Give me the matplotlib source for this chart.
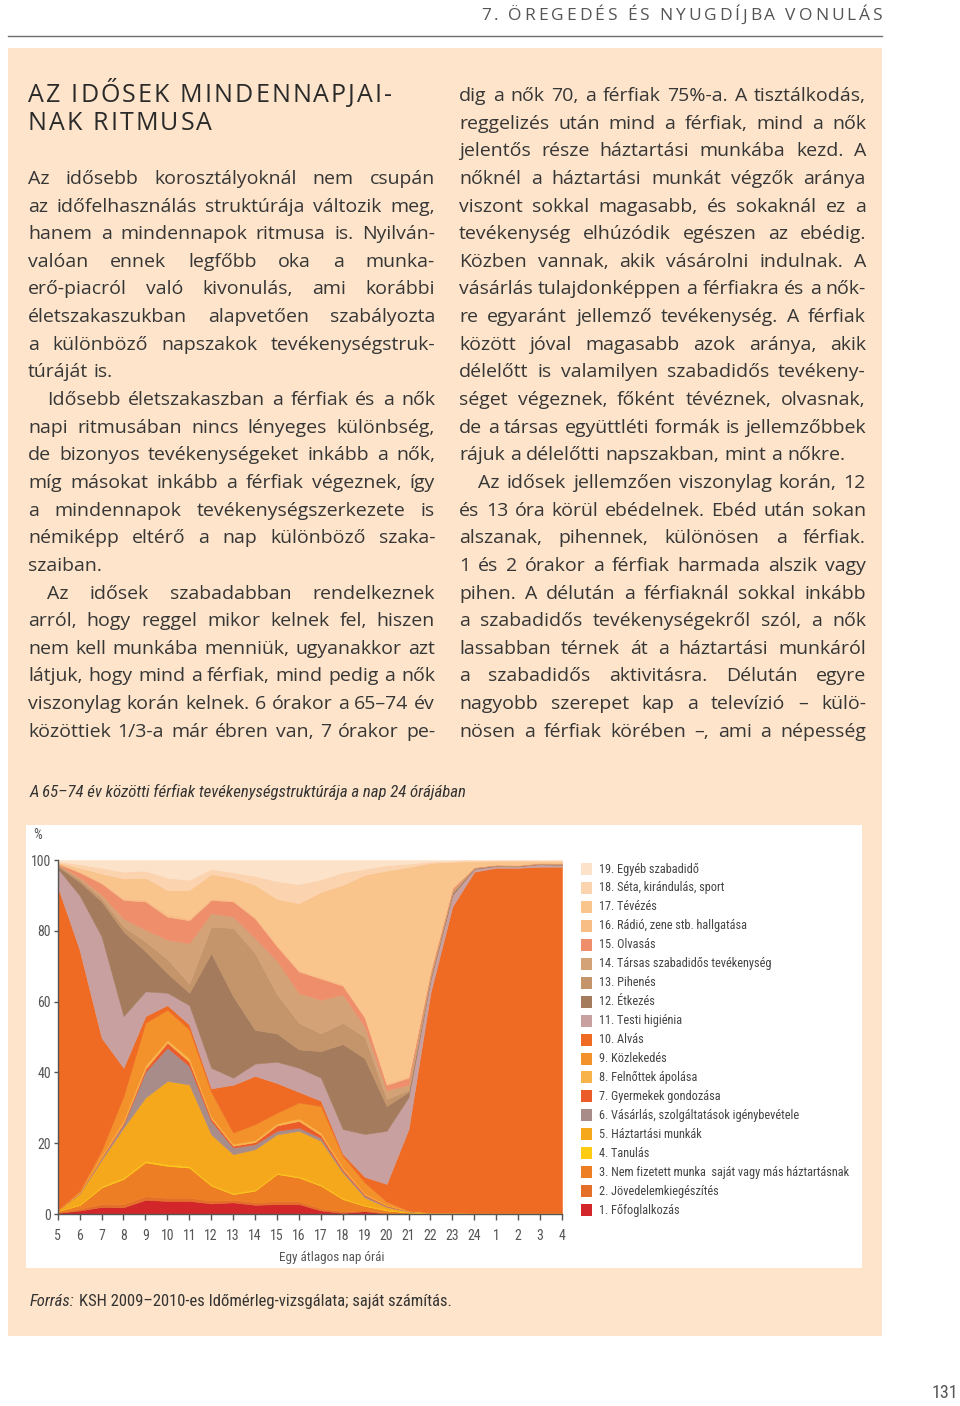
import numpy as np
import matplotlib
matplotlib.use('Agg')
import matplotlib.pyplot as plt
from matplotlib import font_manager as fm
from matplotlib.font_manager import FontProperties
from matplotlib.patches import Rectangle
from matplotlib.lines import Line2D

# ---- data: share (%) of men aged 65-74 by activity, hour of the day ----
hours = ['5', '6', '7', '8', '9', '10', '11', '12', '13', '14', '15', '16',
         '17', '18', '19', '20', '21', '22', '23', '24', '1', '2', '3', '4']

fofoglalkozas = [0.3, 1.0, 2.0, 1.9, 4.0, 3.7, 3.7, 3.0, 3.3, 2.6, 2.8, 2.8, 1.0, 0.3, 0.8, 0.1, 0.1, 0.1, 0.1, 0.1, 0.1, 0.1, 0.1, 0.1]
jovedelem = [0.2, 0.5, 0.8, 0.9, 1.0, 0.9, 0.9, 0.8, 0.7, 0.8, 0.8, 0.8, 0.6, 0.5, 0.2, 0.3, 0.1, 0, 0, 0, 0, 0, 0, 0]
nem_fizetett = [0.3, 1.0, 4.7, 7.1, 9.6, 9.0, 8.5, 4.2, 1.6, 3.2, 7.7, 6.7, 6.4, 3.4, 1.3, 0.6, 0.2, 0.1, 0.1, 0.1, 0.1, 0.1, 0.1, 0.1]
tanulas = [0, 0.2, 0.3, 0.4, 0.4, 0.4, 0.4, 0.3, 0.3, 0.3, 0.3, 0.3, 0.3, 0.3, 0.2, 0.2, 0.1, 0.1, 0.1, 0, 0, 0, 0, 0]
haztartas = [0.2, 3.1, 7.5, 14.1, 17.9, 23.6, 23.1, 14.2, 11.0, 11.4, 10.9, 12.9, 12.4, 7.2, 2.2, 0.8, 0.2, 0.1, 0.1, 0.1, 0.1, 0.1, 0.1, 0.1]
vasarlas = [0, 0.2, 0.5, 1.0, 7.3, 9.4, 5.2, 3.8, 1.9, 1.4, 1.0, 0.9, 0.8, 0.5, 0.5, 0.2, 0.1, 0, 0, 0, 0, 0, 0, 0]
gyermek = [0, 0.1, 0.2, 0.4, 0.8, 1.4, 1.2, 0.7, 0.5, 0.6, 1.5, 1.9, 0.8, 0.5, 0.3, 0.2, 0, 0, 0, 0, 0, 0, 0, 0]
felnott = [0, 0.1, 0.4, 0.7, 1.0, 0.8, 1.0, 0.6, 0.5, 0.6, 0.6, 0.7, 0.7, 0.5, 0.3, 0.2, 0.1, 0, 0, 0, 0, 0, 0, 0]
kozlekedes = [0.2, 0.3, 1.6, 6.8, 12.0, 8.5, 8.1, 6.9, 3.2, 4.5, 3.0, 4.5, 7.5, 3.2, 3.1, 0.9, 0.1, 0.1, 0.1, 0.1, 0.1, 0.1, 0.1, 0.1]
alvas = [91.3, 68.1, 31.8, 8.0, 1.9, 1.3, 1.4, 1.0, 13.5, 13.6, 8.4, 3.0, 1.5, 0.6, 1.6, 5.0, 23.0, 62.0, 86.4, 96.3, 97.4, 97.4, 97.7, 97.7]
higienia = [5.1, 15.4, 28.6, 14.6, 7.0, 3.5, 5.5, 5.8, 2.0, 3.5, 6.0, 6.8, 6.5, 7.0, 12.1, 15.0, 9.0, 3.5, 3.2, 0.8, 0.5, 0.4, 0.7, 0.5]
etkezes = [0.6, 3.8, 9.9, 23.9, 11.3, 5.5, 3.5, 32.4, 23.0, 9.5, 8.0, 5.2, 7.5, 24.0, 21.4, 7.0, 1.5, 0.5, 0.5, 0.2, 0.1, 0.1, 0.1, 0.2]
pihenes = [0.4, 0.7, 0.9, 1.4, 2.8, 4.0, 2.5, 7.5, 19.3, 21.7, 11.0, 7.5, 5.0, 6.0, 6.0, 2.0, 0.5, 0.5, 0.4, 0.1, 0.1, 0.1, 0.1, 0.1]
tarsas = [0.2, 0.5, 1.0, 2.3, 3.3, 5.5, 11.5, 3.8, 3.2, 4.3, 9.5, 8.4, 9.5, 8.0, 3.0, 2.5, 1.5, 0.5, 0.4, 0.1, 0.1, 0.1, 0.1, 0.1]
olvasas = [0.2, 1.5, 3.2, 5.2, 8.0, 6.5, 6.5, 3.7, 4.3, 5.5, 4.1, 6.1, 6.0, 2.5, 2.5, 1.5, 2.0, 1.0, 0.6, 0.1, 0.1, 0.1, 0.1, 0.1]
radio = [0.1, 0.3, 0.4, 0.5, 0.5, 0.8, 0.6, 0.5, 0.4, 0.5, 0.6, 0.5, 0.5, 0.5, 0.5, 0.5, 0.5, 0.3, 0.3, 0.1, 0.1, 0.1, 0.1, 0.1]
tevezes = [0.3, 1.0, 2.4, 5.6, 6.2, 6.7, 7.9, 6.8, 6.3, 9.0, 12.8, 18.8, 24.0, 28.0, 39.8, 60.0, 59.0, 30.4, 7.2, 1.6, 1.0, 1.1, 0.5, 0.5]
seta = [0.3, 1.0, 1.6, 1.9, 2.0, 3.5, 2.9, 1.5, 1.5, 2.5, 5.0, 5.4, 3.5, 3.5, 1.7, 1.5, 1.0, 0.4, 0.3, 0.2, 0.1, 0.1, 0.1, 0.2]
egyeb = [0.3, 1.2, 2.2, 3.3, 3.0, 5.0, 5.6, 2.5, 3.5, 4.5, 6.0, 6.8, 5.5, 3.5, 2.5, 1.5, 1.0, 0.4, 0.2, 0.1, 0.1, 0.1, 0.1, 0.1]

labels = ['1. Főfoglalkozás', '2. Jövedelemkiegészítés',
          '3. Nem fizetett munka  saját vagy más háztartásnak', '4. Tanulás',
          '5. Háztartási munkák', '6. Vásárlás, szolgáltatások igénybevétele',
          '7. Gyermekek gondozása', '8. Felnőttek ápolása', '9. Közlekedés',
          '10. Alvás', '11. Testi higiénia', '12. Étkezés', '13. Pihenés',
          '14. Társas szabadidős tevékenység', '15. Olvasás',
          '16. Rádió, zene stb. hallgatása', '17. Tévézés',
          '18. Séta, kirándulás, sport', '19. Egyéb szabadidő']
colors = ['#D3262B', '#E46F28', '#EE7E24', '#FCCB12', '#F6A81C', '#A88C8A',
          '#EC5B2A', '#F8B34A', '#F3922A', '#EF6A22', '#C9A0A0', '#A47C5D',
          '#C4946A', '#D3A277', '#EF8E6B', '#F8BD84', '#F9C58D', '#FBD3AF',
          '#FCE2C8']
layers = [fofoglalkozas, jovedelem, nem_fizetett, tanulas, haztartas, vasarlas,
          gyermek, felnott, kozlekedes, alvas, higienia, etkezes, pihenes,
          tarsas, olvasas, radio, tevezes, seta, egyeb]

# ---- page text ----
left_lines = [
    ("Az idősebb korosztályoknál nem csupán", False, True),
    ("az időfelhasználás struktúrája változik meg,", False, True),
    ("hanem a mindennapok ritmusa is. Nyilván-", False, True),
    ("valóan ennek legfőbb oka a munka-", False, True),
    ("erő-piacról való kivonulás, ami korábbi", False, True),
    ("életszakaszukban alapvetően szabályozta", False, True),
    ("a különböző napszakok tevékenységstruk-", False, True),
    ("túráját is.", False, False),
    ("Idősebb életszakaszban a férfiak és a nők", True, True),
    ("napi ritmusában nincs lényeges különbség,", False, True),
    ("de bizonyos tevékenységeket inkább a nők,", False, True),
    ("míg másokat inkább a férfiak végeznek, így", False, True),
    ("a mindennapok tevékenységszerkezete is", False, True),
    ("némiképp eltérő a nap különböző szaka-", False, True),
    ("szaiban.", False, False),
    ("Az idősek szabadabban rendelkeznek", True, True),
    ("arról, hogy reggel mikor kelnek fel, hiszen", False, True),
    ("nem kell munkába menniük, ugyanakkor azt", False, True),
    ("látjuk, hogy mind a férfiak, mind pedig a nők", False, True),
    ("viszonylag korán kelnek. 6 órakor a 65–74 év", False, True),
    ("közöttiek 1/3-a már ébren van, 7 órakor pe-", False, True),
]
right_lines = [
    ("dig a nők 70, a férfiak 75%-a. A tisztálkodás,", False, True),
    ("reggelizés után mind a férfiak, mind a nők", False, True),
    ("jelentős része háztartási munkába kezd. A", False, True),
    ("nőknél a háztartási munkát végzők aránya", False, True),
    ("viszont sokkal magasabb, és sokaknál ez a", False, True),
    ("tevékenység elhúzódik egészen az ebédig.", False, True),
    ("Közben vannak, akik vásárolni indulnak. A", False, True),
    ("vásárlás tulajdonképpen a férfiakra és a nők-", False, True),
    ("re egyaránt jellemző tevékenység. A férfiak", False, True),
    ("között jóval magasabb azok aránya, akik", False, True),
    ("délelőtt is valamilyen szabadidős tevékeny-", False, True),
    ("séget végeznek, főként tévéznek, olvasnak,", False, True),
    ("de a társas együttléti formák is jellemzőbbek", False, True),
    ("rájuk a délelőtti napszakban, mint a nőkre.", False, False),
    ("Az idősek jellemzően viszonylag korán, 12", True, True),
    ("és 13 óra körül ebédelnek. Ebéd után sokan", False, True),
    ("alszanak, pihennek, különösen a férfiak.", False, True),
    ("1 és 2 órakor a férfiak harmada alszik vagy", False, True),
    ("pihen. A délután a férfiaknál sokkal inkább", False, True),
    ("a szabadidős tevékenységekről szól, a nők", False, True),
    ("lassabban térnek át a háztartási munkáról", False, True),
    ("a szabadidős aktivitásra. Délután egyre", False, True),
    ("nagyobb szerepet kap a televízió – külö-", False, True),
    ("nösen a férfiak körében –, ami a népesség", False, True),
]

# ---- fonts ----
names = {f.name for f in fm.fontManager.ttflist}
BODY = 'DejaVu Sans'
for cand in ['Open Sans', 'Lato', 'Noto Sans']:
    if cand in names:
        BODY = cand
        break
NARROW = 'DejaVu Sans'
for cand in ['Liberation Sans Narrow', 'Roboto Condensed', 'Open Sans Condensed', 'DejaVu Sans Condensed', 'Liberation Sans']:
    if cand in names:
        NARROW = cand
        break
narrow_scale = 1.0 if 'Narrow' in NARROW or 'Condensed' in NARROW else 0.85

TXT = '#363636'
W, H = 960, 1406
fig = plt.figure(figsize=(W / 100, H / 100), dpi=100)
fig.patch.set_facecolor('white')
rend = fig.canvas.get_renderer()


def fx(px):
    return px / W


def fy(py):
    return 1 - py / H


def text_w(s, fp):
    t = fig.text(0, 0, s, fontproperties=fp)
    w = t.get_window_extent(rend).width
    t.remove()
    return w


def tracked(s, x0, x1, y, fp, color):
    sp = text_w('a a', fp) - text_w('aa', fp)
    ws = [sp if ch == ' ' else text_w(ch, fp) for ch in s]
    extra = (x1 - x0 - sum(ws)) / (len(s) - 1)
    x = x0
    for ch, w in zip(s, ws):
        if ch != ' ':
            fig.text(fx(x), fy(y), ch, fontproperties=fp, color=color, va='baseline')
        x += w + extra


def column(lines, x0, x1, first_j, fp):
    sp = text_w('a a', fp) - text_w('aa', fp)
    for k, (s, indent, just) in enumerate(lines):
        y = 95.5 + (first_j + k) * 27.64 + 5.5
        words = s.split()
        ws = [text_w(w, fp) for w in words]
        start = x0 + (19 if indent else 0)
        if just and len(words) > 1:
            gap = max(sp * 0.45, (x1 - start - sum(ws)) / (len(words) - 1))
        else:
            gap = sp
        x = start
        for w, wd in zip(words, ws):
            fig.text(fx(x), fy(y), w, fontproperties=fp, color=TXT, va='baseline')
            x += wd + gap


# beige box, header rule, white chart panel (behind the axes)
fig.patches.append(Rectangle((fx(8), fy(1336)), fx(882) - fx(8), fy(48) - fy(1336),
                             transform=fig.transFigure, facecolor='#FDE4CA', edgecolor='none', zorder=-2))
fig.patches.append(Rectangle((fx(26), fy(1268)), fx(862) - fx(26), fy(825) - fy(1268),
                             transform=fig.transFigure, facecolor='white', edgecolor='none', zorder=-1))
fig.add_artist(Line2D([fx(8), fx(882)], [fy(36), fy(36)], color='#6e6e6e', lw=1.0))

tracked('7. ÖREGEDÉS ÉS NYUGDÍJBA VONULÁS', 481, 882, 20.5,
        FontProperties(family=BODY, weight='normal', size=12.5), '#555555')

title_fp = FontProperties(family=BODY, weight='normal', size=18)
tracked('AZ IDŐSEK MINDENNAPJAI-', 28, 392, 102, title_fp, '#2a2a2a')
tracked('NAK RITMUSA', 28, 212, 129.5, title_fp, '#2a2a2a')

body_fp = FontProperties(family=BODY, weight='normal', size=14)
column(left_lines, 28, 435, 3, body_fp)
column(right_lines, 459, 866, 0, body_fp)

# captions
fig.text(fx(30), fy(797), 'A 65–74 év közötti férfiak tevékenységstruktúrája a nap 24 órájában',
         fontproperties=FontProperties(family=NARROW, style='italic', size=12.1 * narrow_scale),
         color='#333333', va='baseline')
src_i = FontProperties(family=NARROW, style='italic', size=12 * narrow_scale)
src_n = FontProperties(family=NARROW, size=12 * narrow_scale)
fig.text(fx(30), fy(1306), 'Forrás:', fontproperties=src_i, color='#333333', va='baseline')
fig.text(fx(30 + text_w('Forrás:', src_i) + 4), fy(1306),
         'KSH 2009–2010-es Időmérleg-vizsgálata; saját számítás.',
         fontproperties=src_n, color='#333333', va='baseline')
fig.text(fx(958), fy(1393), '131', fontproperties=FontProperties(family=NARROW, size=13 * narrow_scale),
         color='#555555', ha='right', va='center')

# ---- chart ----
ax = fig.add_axes([fx(57.7), fy(1214), (562 - 57.7) / W, (1214 - 860) / H])
x = np.arange(len(hours))
polys = ax.stackplot(x, *layers, colors=colors, lw=0)
for p, c in zip(polys, colors):
    p.set_edgecolor(c)
    p.set_linewidth(0.4)
ax.set_xlim(0, len(hours) - 1)
ax.set_ylim(0, 100)
ax.set_facecolor('white')
for s in ['top', 'right']:
    ax.spines[s].set_visible(False)
for s in ['left', 'bottom']:
    ax.spines[s].set_color('#555555')
    ax.spines[s].set_linewidth(1.0)
tick_fp = FontProperties(family=NARROW, size=10 * narrow_scale)
ax.set_xticks(x)
ax.set_xticklabels(hours)
ax.set_yticks([0, 20, 40, 60, 80, 100])
ax.set_yticklabels(['0', '20', '40', '60', '80', '100'])
for lab in ax.get_xticklabels() + ax.get_yticklabels():
    lab.set_fontproperties(tick_fp)
    lab.set_color('#555555')
ax.tick_params(axis='x', length=4, width=1, color='#555555', pad=7)
ax.tick_params(axis='y', length=3, width=1, color='#555555', pad=2)
fig.text(fx(332), fy(1258), 'Egy átlagos nap órái', fontproperties=FontProperties(family=NARROW, size=9.5 * narrow_scale),
         color='#555555', ha='center', va='center')
fig.text(fx(38), fy(835), '%', fontproperties=tick_fp, color='#555555', ha='center', va='center')

# legend (top entry first)
leg_fp = FontProperties(family=NARROW, size=8.8 * narrow_scale)
for i, k in enumerate(range(len(labels) - 1, -1, -1)):
    yc = 869 + i * 18.95
    fig.patches.append(Rectangle((fx(581), fy(yc + 6)), 11 / W, 12 / H, transform=fig.transFigure,
                                 facecolor=colors[k], edgecolor='none', zorder=2))
    fig.text(fx(599), fy(yc), labels[k], fontproperties=leg_fp, color='#444444', va='center')

fig.savefig('out.png', dpi=100)
